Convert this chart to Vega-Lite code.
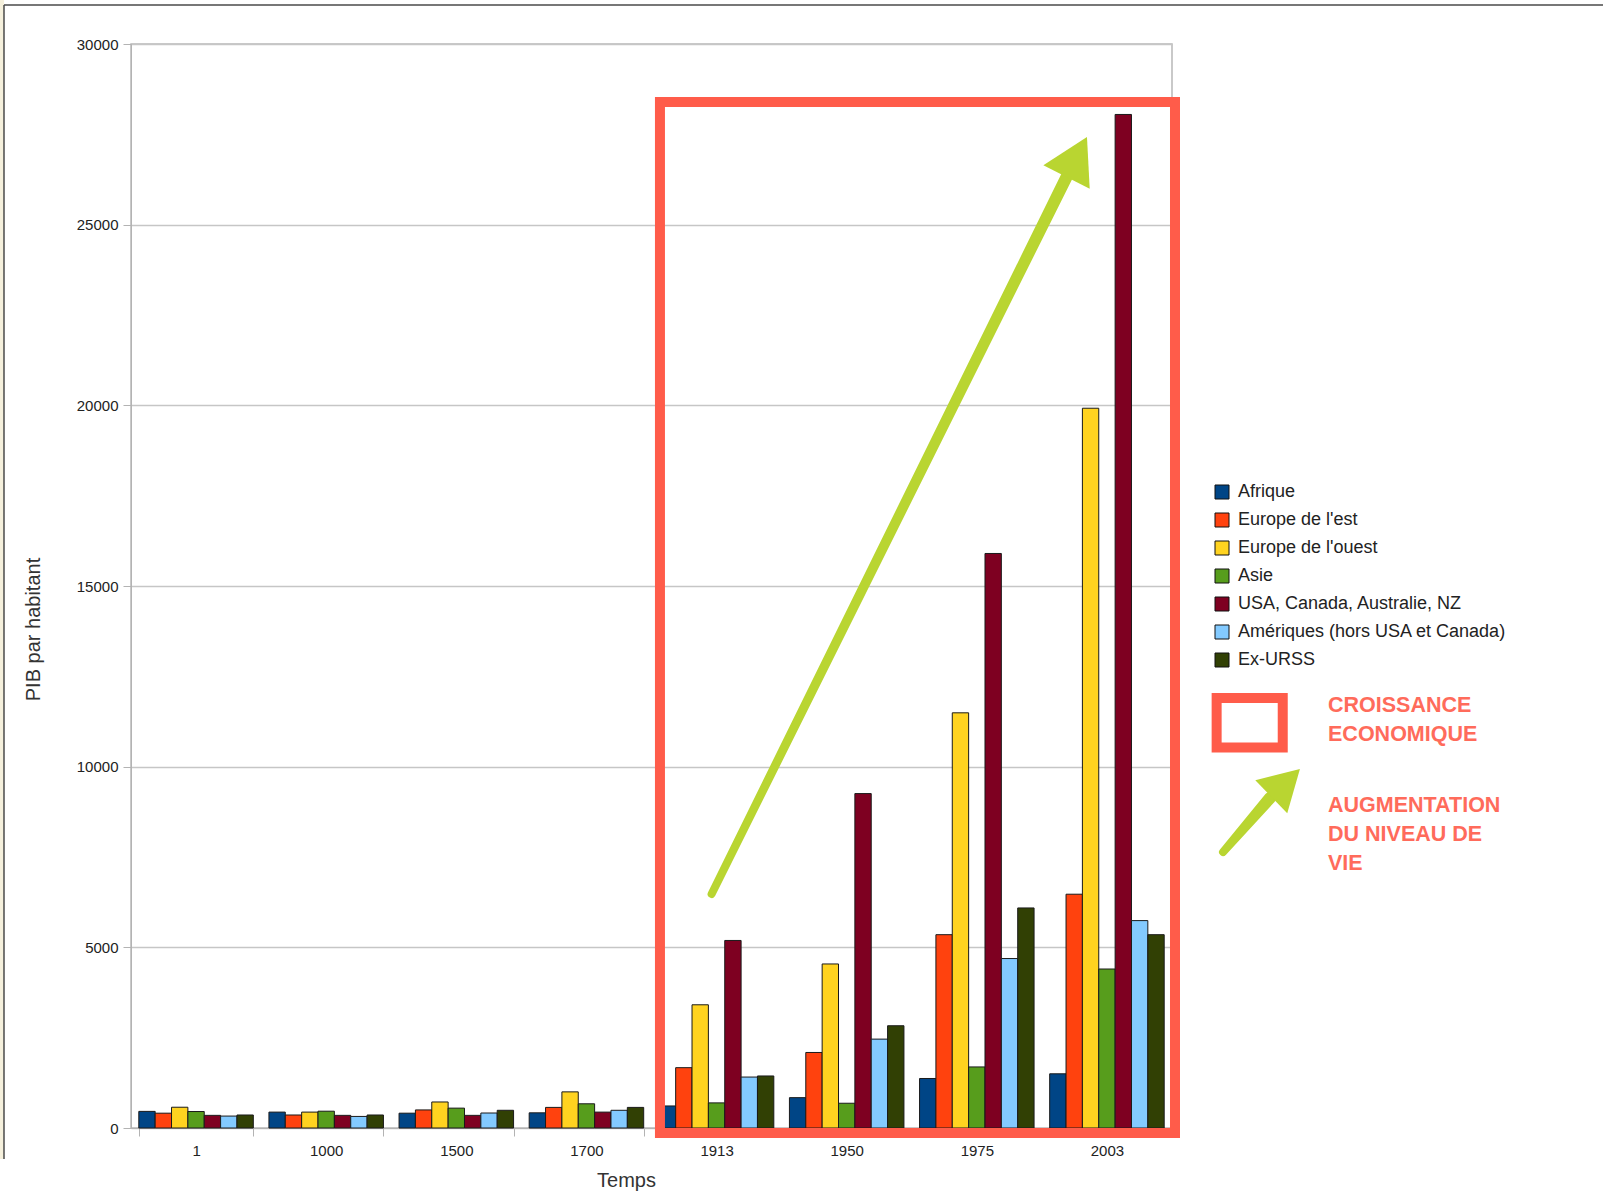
{
  "$schema": "https://vega.github.io/schema/vega-lite/v6.json",
  "width": 1041,
  "height": 1084,
  "autosize": {"type": "none"},
  "padding": {"left": 131, "top": 44, "right": 431, "bottom": 65},
  "background": "white",
  "config": {
    "view": {"stroke": "#b8b8b8", "strokeWidth": 1.5},
    "font": "Liberation Sans"
  },
  "resolve": {"scale": {"x": "independent", "y": "independent", "size": "independent"}},
  "layer": [
    {
      "data": {"values": [
        {"p": "1", "r": "Afrique", "v": 460}, {"p": "1", "r": "Europe de l'est", "v": 410}, {"p": "1", "r": "Europe de l'ouest", "v": 575}, {"p": "1", "r": "Asie", "v": 456}, {"p": "1", "r": "USA, Canada, Australie, NZ", "v": 350}, {"p": "1", "r": "Amériques (hors USA et Canada)", "v": 330}, {"p": "1", "r": "Ex-URSS", "v": 360},
        {"p": "1000", "r": "Afrique", "v": 440}, {"p": "1000", "r": "Europe de l'est", "v": 360}, {"p": "1000", "r": "Europe de l'ouest", "v": 440}, {"p": "1000", "r": "Asie", "v": 465}, {"p": "1000", "r": "USA, Canada, Australie, NZ", "v": 350}, {"p": "1000", "r": "Amériques (hors USA et Canada)", "v": 320}, {"p": "1000", "r": "Ex-URSS", "v": 360},
        {"p": "1500", "r": "Afrique", "v": 410}, {"p": "1500", "r": "Europe de l'est", "v": 500}, {"p": "1500", "r": "Europe de l'ouest", "v": 720}, {"p": "1500", "r": "Asie", "v": 550}, {"p": "1500", "r": "USA, Canada, Australie, NZ", "v": 350}, {"p": "1500", "r": "Amériques (hors USA et Canada)", "v": 415}, {"p": "1500", "r": "Ex-URSS", "v": 490},
        {"p": "1700", "r": "Afrique", "v": 420}, {"p": "1700", "r": "Europe de l'est", "v": 570}, {"p": "1700", "r": "Europe de l'ouest", "v": 1000}, {"p": "1700", "r": "Asie", "v": 670}, {"p": "1700", "r": "USA, Canada, Australie, NZ", "v": 440}, {"p": "1700", "r": "Amériques (hors USA et Canada)", "v": 490}, {"p": "1700", "r": "Ex-URSS", "v": 570},
        {"p": "1913", "r": "Afrique", "v": 610}, {"p": "1913", "r": "Europe de l'est", "v": 1670}, {"p": "1913", "r": "Europe de l'ouest", "v": 3410}, {"p": "1913", "r": "Asie", "v": 695}, {"p": "1913", "r": "USA, Canada, Australie, NZ", "v": 5190}, {"p": "1913", "r": "Amériques (hors USA et Canada)", "v": 1410}, {"p": "1913", "r": "Ex-URSS", "v": 1440},
        {"p": "1950", "r": "Afrique", "v": 840}, {"p": "1950", "r": "Europe de l'est", "v": 2090}, {"p": "1950", "r": "Europe de l'ouest", "v": 4540}, {"p": "1950", "r": "Asie", "v": 685}, {"p": "1950", "r": "USA, Canada, Australie, NZ", "v": 9255}, {"p": "1950", "r": "Amériques (hors USA et Canada)", "v": 2460}, {"p": "1950", "r": "Ex-URSS", "v": 2830},
        {"p": "1975", "r": "Afrique", "v": 1370}, {"p": "1975", "r": "Europe de l'est", "v": 5350}, {"p": "1975", "r": "Europe de l'ouest", "v": 11490}, {"p": "1975", "r": "Asie", "v": 1690}, {"p": "1975", "r": "USA, Canada, Australie, NZ", "v": 15900}, {"p": "1975", "r": "Amériques (hors USA et Canada)", "v": 4690}, {"p": "1975", "r": "Ex-URSS", "v": 6090},
        {"p": "2003", "r": "Afrique", "v": 1500}, {"p": "2003", "r": "Europe de l'est", "v": 6470}, {"p": "2003", "r": "Europe de l'ouest", "v": 19920}, {"p": "2003", "r": "Asie", "v": 4400}, {"p": "2003", "r": "USA, Canada, Australie, NZ", "v": 28050}, {"p": "2003", "r": "Amériques (hors USA et Canada)", "v": 5740}, {"p": "2003", "r": "Ex-URSS", "v": 5350}
      ]},
      "mark": {"type": "bar", "stroke": "#1a1a1a", "strokeWidth": 1},
      "encoding": {
        "x": {
          "field": "p", "type": "nominal",
          "sort": ["1", "1000", "1500", "1700", "1913", "1950", "1975", "2003"],
          "scale": {"paddingInner": 0.12, "paddingOuter": 0.06},
          "axis": {
            "title": "Temps", "labelAngle": 0, "labelFont": "Liberation Sans", "labelFontSize": 15, "labelColor": "#222",
            "tickBand": "extent", "tickSize": 8, "tickColor": "#b3b3b3", "domainColor": "#b3b3b3", "labelPadding": 7,
            "titleFont": "Liberation Sans", "titleFontSize": 20, "titleFontWeight": "normal", "titleColor": "#333",
            "titleX": 495, "titleY": 42, "grid": false
          }
        },
        "xOffset": {
          "field": "r", "type": "nominal",
          "sort": ["Afrique", "Europe de l'est", "Europe de l'ouest", "Asie", "USA, Canada, Australie, NZ", "Amériques (hors USA et Canada)", "Ex-URSS"],
          "scale": {"paddingInner": 0, "paddingOuter": 0}
        },
        "y": {
          "field": "v", "type": "quantitative",
          "scale": {"domain": [0, 30000], "nice": false, "zero": false},
          "axis": {
            "title": "PIB par habitant", "values": [0, 5000, 10000, 15000, 20000, 25000, 30000], "format": "d",
            "labelFont": "Liberation Sans", "labelFontSize": 15, "labelColor": "#222", "labelPadding": 5,
            "tickSize": 8, "tickColor": "#b3b3b3", "domainColor": "#b3b3b3",
            "grid": true, "gridColor": "#c6c6c6", "gridWidth": 1.5,
            "titleFont": "Liberation Sans", "titleFontSize": 20, "titleFontWeight": "normal", "titleColor": "#333",
            "titleX": -88, "titleY": 585
          }
        },
        "color": {
          "field": "r", "type": "nominal",
          "scale": {
            "domain": ["Afrique", "Europe de l'est", "Europe de l'ouest", "Asie", "USA, Canada, Australie, NZ", "Amériques (hors USA et Canada)", "Ex-URSS"],
            "range": ["#004586", "#ff420e", "#ffd320", "#579d1c", "#7e0021", "#83caff", "#314004"]
          },
          "legend": {
            "orient": "none", "legendX": 1082, "legendY": 439, "title": null, "padding": 0,
            "symbolType": "square", "symbolSize": 196, "symbolStrokeColor": "#111", "symbolStrokeWidth": 1,
            "labelFont": "Liberation Sans", "labelFontSize": 18, "labelColor": "#222", "labelOffset": 7,
            "rowPadding": 10, "labelLimit": 400
          }
        }
      }
    },
    {
      "data": {"values": [
        {"k": "beige", "x1": -1.2, "x2": -0.976, "y1": 31400, "y2": -858}
      ]},
      "mark": {"type": "rect", "fill": "#f5f0dc"},
      "encoding": {
        "x": {"field": "x1", "type": "quantitative", "scale": {"domain": [0, 8]}, "axis": null},
        "x2": {"field": "x2"},
        "y": {"field": "y1", "type": "quantitative", "scale": {"domain": [0, 30000], "nice": false, "zero": false}, "axis": null},
        "y2": {"field": "y2"}
      }
    },
    {
      "data": {"values": [
        {"k": "haut", "x1": -0.976, "x2": 11.4, "y1": 31079, "y2": 31079},
        {"k": "gauche", "x1": -0.976, "x2": -0.976, "y1": 31079, "y2": -858}
      ]},
      "mark": {"type": "rule", "color": "#4a4a4a", "strokeWidth": 1.5},
      "encoding": {
        "x": {"field": "x1", "type": "quantitative", "scale": {"domain": [0, 8]}, "axis": null},
        "x2": {"field": "x2"},
        "y": {"field": "y1", "type": "quantitative", "scale": {"domain": [0, 30000], "nice": false, "zero": false}, "axis": null},
        "y2": {"field": "y2"}
      }
    },
    {
      "data": {"values": [
        {"k": "croissance", "x1": 4.065, "x2": 8.023, "y1": 28395, "y2": -138},
        {"k": "legende", "x1": 8.343, "x2": 8.851, "y1": 11900, "y2": 10531}
      ]},
      "mark": {"type": "rect", "filled": false, "stroke": "#ff5c4a", "strokeWidth": 10},
      "encoding": {
        "x": {"field": "x1", "type": "quantitative", "scale": {"domain": [0, 8]}, "axis": null},
        "x2": {"field": "x2"},
        "y": {"field": "y1", "type": "quantitative", "scale": {"domain": [0, 30000], "nice": false, "zero": false}, "axis": null},
        "y2": {"field": "y2"}
      }
    },
    {
      "data": {"values": [
        {"a": "principale", "t": 0, "x": 4.462, "y": 6476},
        {"a": "principale", "t": 1, "x": 7.216, "y": 26513},
        {"a": "legende", "t": 0, "x": 8.392, "y": 7638},
        {"a": "legende", "t": 1, "x": 8.753, "y": 9133}
      ]},
      "mark": {"type": "trail", "color": "#b9d531"},
      "encoding": {
        "x": {"field": "x", "type": "quantitative", "scale": {"domain": [0, 8]}, "axis": null},
        "y": {"field": "y", "type": "quantitative", "scale": {"domain": [0, 30000], "nice": false, "zero": false}, "axis": null},
        "size": {"field": "t", "type": "quantitative", "scale": {"domain": [0, 1], "range": [8, 12]}, "legend": null},
        "detail": {"field": "a", "type": "nominal"}
      }
    },
    {
      "data": {"values": [{"a": "principale", "x": 7.268, "y": 26873}]},
      "mark": {"type": "point", "shape": "triangle-up", "filled": true, "color": "#b9d531", "opacity": 1, "size": 2704, "angle": 27},
      "encoding": {
        "x": {"field": "x", "type": "quantitative", "scale": {"domain": [0, 8]}, "axis": null},
        "y": {"field": "y", "type": "quantitative", "scale": {"domain": [0, 30000], "nice": false, "zero": false}, "axis": null}
      }
    },
    {
      "data": {"values": [{"a": "legende", "x": 8.873, "y": 9551}]},
      "mark": {"type": "point", "shape": "triangle-up", "filled": true, "color": "#b9d531", "opacity": 1, "size": 2116, "angle": 46},
      "encoding": {
        "x": {"field": "x", "type": "quantitative", "scale": {"domain": [0, 8]}, "axis": null},
        "y": {"field": "y", "type": "quantitative", "scale": {"domain": [0, 30000], "nice": false, "zero": false}, "axis": null}
      }
    },
    {
      "data": {"values": [
        {"t": "CROISSANCE", "x": 9.199, "y": 11521},
        {"t": "ECONOMIQUE", "x": 9.199, "y": 10719},
        {"t": "AUGMENTATION", "x": 9.199, "y": 8754},
        {"t": "DU NIVEAU DE", "x": 9.199, "y": 7951},
        {"t": "VIE", "x": 9.199, "y": 7148}
      ]},
      "mark": {"type": "text", "align": "left", "baseline": "alphabetic", "font": "Liberation Sans", "fontSize": 21.5, "fontWeight": "bold", "color": "#ff6b5b"},
      "encoding": {
        "x": {"field": "x", "type": "quantitative", "scale": {"domain": [0, 8]}, "axis": null},
        "y": {"field": "y", "type": "quantitative", "scale": {"domain": [0, 30000], "nice": false, "zero": false}, "axis": null},
        "text": {"field": "t", "type": "nominal"}
      }
    }
  ]
}
